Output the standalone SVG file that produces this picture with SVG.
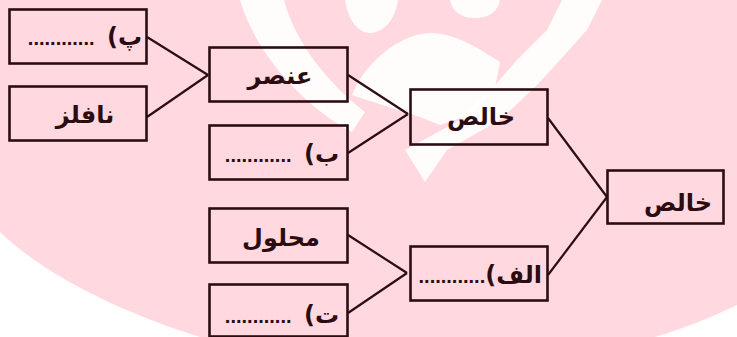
<svg xmlns="http://www.w3.org/2000/svg" width="737" height="337" viewBox="0 0 737 337">
<style>
.box{fill:none;stroke:#2b0d12;stroke-width:2.6}
.ln{stroke:#2b0d12;stroke-width:2.2;fill:none}
.t{font-family:"DejaVu Sans",sans-serif;font-weight:bold;font-size:24px;fill:#2b0c11}
.r{direction:rtl;unicode-bidi:embed;text-anchor:start}
.d{font-family:"Liberation Sans",sans-serif;font-weight:bold;font-size:20px}
.wm{fill:#ffffff;opacity:0.9}
</style>
<rect width="737" height="337" fill="#ffffff"/>
<g id="watermark">
<path d="M0,0 H737 V305 C715,316 690,326 655,337 H200 C130,315 50,280 0,232 Z" fill="#ffd9df"/>
<path class="wm" d="M240,0 L284,0 C296,45 330,85 365,112 L352,132 C310,110 258,60 240,0 Z"/>
<path class="wm" d="M345,0 L398,0 C396,15 388,30 372,33 C358,34 348,20 345,0 Z"/>
<path class="wm" d="M450,0 L500,0 C498,12 488,18 475,18 C462,18 452,12 450,0 Z"/>
<path class="wm" d="M562,0 L602,0 L587,30 L560,60 L537,85 L500,120 L447,150 L425,182 L405,150 L460,120 L495,85 L517,60 L547,30 Z"/>
<path class="wm" d="M352,95 C365,62 400,34 430,33 C455,33 478,48 500,62 L495,88 L470,115 L440,125 C410,112 380,105 352,95 Z"/>
</g>
<g id="connectors">
<line class="ln" x1="147" y1="37" x2="208" y2="75"/>
<line class="ln" x1="147" y1="117" x2="208" y2="75"/>
<line class="ln" x1="348" y1="75" x2="408" y2="114"/>
<line class="ln" x1="348" y1="153" x2="408" y2="114"/>
<line class="ln" x1="548" y1="118" x2="607" y2="197"/>
<line class="ln" x1="548" y1="275" x2="607" y2="197"/>
<line class="ln" x1="348" y1="235" x2="407" y2="273"/>
<line class="ln" x1="348" y1="313" x2="407" y2="273"/>
</g>
<g id="node-p">
<rect class="box" x="9.5" y="9.5" width="137" height="54"/>
<text class="t r" x="142" y="45">پ)&#x2006; <tspan class="d">............</tspan></text>
</g>
<g id="node-nafelez">
<rect class="box" x="9.5" y="86.5" width="137" height="54"/>
<text class="t" x="85" y="123" text-anchor="middle">نافلز</text>
</g>
<g id="node-onsor">
<rect class="box" x="209.5" y="47.5" width="138" height="54"/>
<text class="t" x="280" y="84" text-anchor="middle">عنصر</text>
</g>
<g id="node-b">
<rect class="box" x="209.5" y="125.5" width="138" height="54"/>
<text class="t r" x="339" y="162">ب)&#x2006; <tspan class="d">............</tspan></text>
</g>
<g id="node-khales-mid">
<rect class="box" x="410.5" y="89.5" width="137" height="55"/>
<text class="t" x="481" y="125" text-anchor="middle">خالص</text>
</g>
<g id="node-khales-right">
<rect class="box" x="607.5" y="170.5" width="116" height="53"/>
<text class="t" x="678" y="211" text-anchor="middle">خالص</text>
</g>
<g id="node-alef">
<rect class="box" x="410.5" y="246.5" width="137" height="54"/>
<text class="t r" x="542" y="283">الف)<tspan class="d">............</tspan></text>
</g>
<g id="node-mahlool">
<rect class="box" x="209.5" y="208.5" width="138" height="54"/>
<text class="t" x="281" y="246" text-anchor="middle">محلول</text>
</g>
<g id="node-t">
<rect class="box" x="209.5" y="284.5" width="138" height="52"/>
<text class="t r" x="339" y="323">ت)&#x2006; <tspan class="d">............</tspan></text>
</g>
</svg>
